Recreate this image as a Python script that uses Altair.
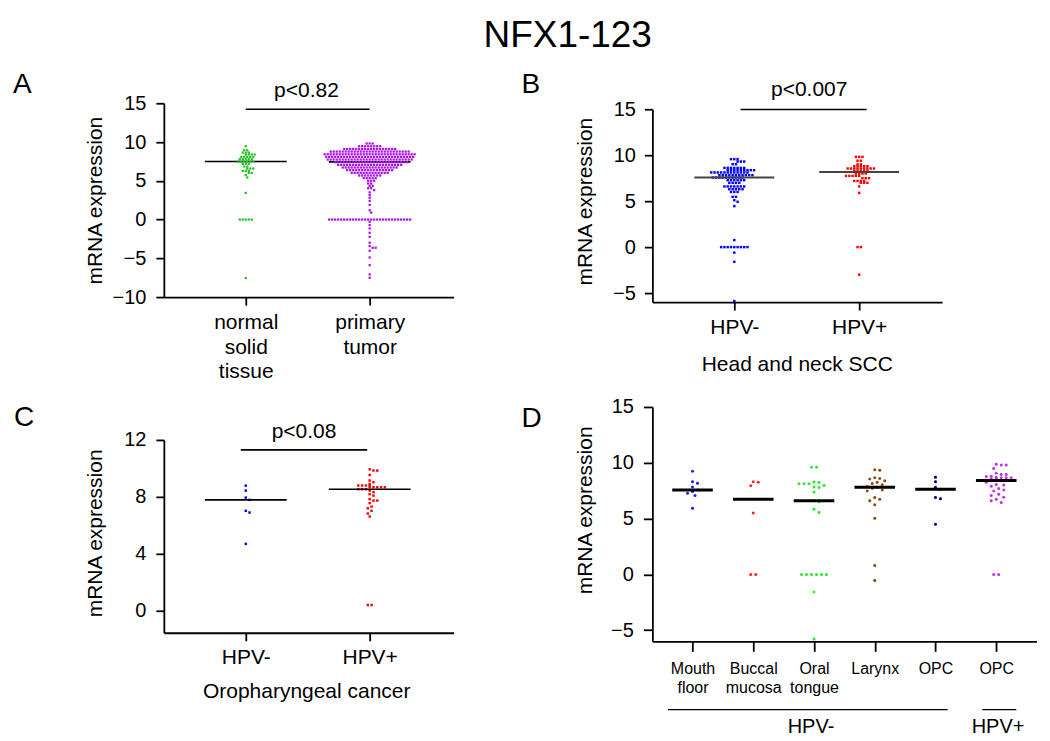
import math
import altair as alt
import pandas as pd

FONT = "Liberation Sans"

# ---------------- data ----------------
# Panel A : TCGA normal vs primary tumour
A_GROUPS = ["normal solid tissue", "primary tumor"]
A_CATS = [["normal", "solid", "tissue"], ["primary", "tumor"]]
A_NORMAL_LEVELS = [9.46, 8.94, 8.64, 8.39, 8.08, 7.78, 7.48, 7.18, 6.84, 6.58, 6.28, 6.02,
                   5.72, 5.42, 3.44, 0.0, -7.55]
A_NORMAL_COUNTS = [1, 2, 3, 4, 5, 5, 6, 3, 2, 3, 3, 2, 1, 1, 1, 5, 1]
A_TUMOR_LEVELS = [9.81, 9.46, 9.1, 8.77, 8.42, 8.08, 7.74, 7.4, 7.05, 6.71, 6.37, 6.02,
                  5.68, 5.34, 5.0, 4.65, 4.35, 4.05, 3.8, 3.5, 3.15, 2.8, 2.4, 1.9, 1.2,
                  0.9, 0.0, -0.29, -0.72, -1.15, -1.71, -2.22, -2.99, -3.42, -3.64,
                  -4.03, -4.89, -5.88, -7.08, -7.51]
A_TUMOR_COUNTS = [3, 8, 18, 27, 31, 30, 29, 25, 22, 19, 16, 13, 8, 5, 3, 2, 2, 2, 1, 1, 1,
                  1, 1, 1, 1, 1, 28, 1, 1, 1, 1, 1, 1, 1, 2, 1, 1, 1, 1, 1]
A_MEDIANS = [7.48, 7.44]
A_P = "p<0.82"

# Panel B : head and neck SCC by HPV status
B_GROUPS = ["HPV- HNSCC", "HPV+ HNSCC"]
B_CATS = [["HPV-"], ["HPV+"]]
B_NEG_LEVELS = [9.57, 9.31, 9.02, 8.62, 8.37, 8.12, 7.83, 7.57, 7.28, 6.99, 6.6, 6.3, 6.0,
                5.47, 5.1, 4.93, 4.46, 0.76, 0.0, -0.6, -1.6, -5.87]
B_NEG_COUNTS = [3, 3, 2, 7, 9, 12, 11, 10, 6, 4, 7, 5, 3, 2, 1, 1, 1, 1, 9, 1, 1, 1]
B_POS_LEVELS = [9.82, 9.4, 9.0, 8.8, 8.55, 8.3, 8.0, 7.75, 7.5, 7.2, 7.0, 6.6, 5.9, 0.0, -3.0]
B_POS_COUNTS = [3, 2, 2, 5, 9, 5, 4, 5, 3, 4, 3, 1, 1, 2, 1]
B_MEDIANS = [7.57, 8.18]
B_P = "p<0.007"
B_XTITLE = "Head and neck SCC"

# Panel C : oropharyngeal cancer
C_GROUPS = ["HPV- OPC", "HPV+ OPC"]
C_CATS = [["HPV-"], ["HPV+"]]
C_NEG = [8.79, 8.44, 7.95, 7.79, 7.02, 6.9, 4.7]
C_POS_LEVELS = [9.94, 9.85, 9.54, 9.15, 9.03, 8.91, 8.8, 8.68, 8.54, 8.44, 8.33, 8.19, 8.09,
                7.84, 7.74, 7.56, 7.32, 7.2, 7.02, 6.83, 6.62, 0.4]
C_POS_COUNTS = [1, 2, 1, 1, 1, 1, 4, 5, 3, 1, 1, 1, 1, 1, 2, 1, 1, 1, 1, 1, 1, 2]
C_MEDIANS = [7.79, 8.54]
C_P = "p<0.08"
C_XTITLE = "Oropharyngeal cancer"

# Panel D : by anatomical site
D_GROUPS = ["Mouth floor", "Buccal mucosa", "Oral tongue", "Larynx", "OPC (HPV-)", "OPC (HPV+)"]
D_CATS = [["Mouth", "floor"], ["Buccal", "mucosa"], ["Oral", "tongue"], ["Larynx"], ["OPC"], ["OPC"]]
D_MOUTH = [9.25, 8.29, 8.17, 7.84, 7.57, 7.42, 7.28, 7.07, 5.93]
D_BUCCAL = [8.3, 8.25, 7.95, 5.5, 0.0, 0.0]
D_TONGUE = [9.6, 9.6, 8.27, 8.24, 8.11, 8.11, 8.11, 7.96, 7.84, 7.78, 7.37, 6.59, 6.5, 5.84,
            5.54, 0.0, 0.0, 0.0, 0.0, 0.0, 0.0, -1.59, -5.8]
D_LARYNX = [9.38, 9.34, 8.65, 8.6, 8.55, 8.4, 8.26, 8.14, 8.02, 7.87, 7.81, 7.72, 7.57, 7.46,
            6.88, 6.74, 6.59, 6.23, 5.04, 0.8, -0.55]
D_OPC_NEG = [8.71, 8.29, 7.81, 7.63, 6.89, 6.77, 4.5]
D_OPC_POS = [9.87, 9.8, 9.8, 9.48, 9.07, 8.94, 8.94, 8.8, 8.77, 8.7, 8.65, 8.65, 8.65, 8.56,
             8.56, 8.4, 8.38, 8.26, 8.05, 8.0, 7.9, 7.7, 7.57, 7.46, 7.19, 7.07, 6.9, 6.74,
             6.59, 6.44, 0.0, 0.0]
D_MEDIANS = [7.57, 6.74, 6.59, 7.81, 7.63, 8.41]
D_GROUP_TEXT = ["HPV-", "HPV+"]
D_GROUP_SPAN = [[-0.403, 4.2], [4.77, 5.33]]
D_GROUP_CENTER = [1.95, 5.03]

TITLE = "NFX1-123"
YTITLE = "mRNA expression"


def expand(levels, counts):
    return [v for v, c in zip(levels, counts) for _ in range(c)]


def swarm(vals, ppu_x, ppu_y, s):
    """GraphPad-like scatter: identical values form centred rows, collisions pushed aside."""
    placed, res = [], []
    for v in sorted(set(vals), reverse=True):
        n = vals.count(v)
        y = v * ppu_y
        base = [(i - (n - 1) / 2) * s for i in range(n)]
        best = None
        for k in [0, 0.5, -0.5, 1, -1, 1.5, -1.5, 2, -2]:
            xs = [b + k * s for b in base]
            c = 0
            for (px, py) in placed:
                if abs(py - y) < s:
                    for x in xs:
                        if math.hypot(x - px, y - py) < 0.9 * s:
                            c += 1
            key = (c, abs(k))
            if best is None or key < best[0]:
                best = (key, xs)
        for x in best[1]:
            placed.append((x, y))
            res.append((v, x / ppu_x))
    return res


def label_expr(cats):
    parts = ["[" + ",".join("'%s'" % w for w in lines) + "]" for lines in cats]
    return "[" + ",".join(parts) + "][datum.value]"


def panel(p):
    rows = []
    for i, (g, vals) in enumerate(zip(p["groups"], p["values"])):
        for v, off in swarm(vals, p["ppu_x"], p["ppu_y"], p["spacing"]):
            rows.append({"x": i + off, "y": v, "g": g})
    pts = pd.DataFrame(rows)
    hw = p["median_half"]
    med = pd.DataFrame({"x": [i - hw for i in range(len(p["medians"]))],
                        "x2": [i + hw for i in range(len(p["medians"]))],
                        "y": p["medians"]})

    xaxis = dict(values=list(range(len(p["cats"]))), labelExpr=label_expr(p["cats"]),
                 grid=False, tickSize=p["xtick"], labelPadding=p["xlabpad"],
                 labelFontSize=p["xlabsize"], labelLineHeight=p["xlineh"],
                 labelOverlap=False, labelFlush=False, labelBaseline="top")
    if p.get("xtitle"):
        xaxis.update(title=p["xtitle"], titleX=p["xtitle_pos"][0], titleY=p["xtitle_pos"][1],
                     titleBaseline="alphabetic", titleAlign="center", titleFontSize=21,
                     titleFontWeight="normal")
    else:
        xaxis.update(title=None)
    X = alt.X("x:Q", scale=alt.Scale(domain=p["xdom"], nice=False, zero=False),
              axis=alt.Axis(**xaxis))
    yscale = dict(domain=p["ydom"], nice=False, zero=False)
    if p.get("yrange"):
        yscale["range"] = p["yrange"]
    Y = alt.Y("y:Q", scale=alt.Scale(**yscale),
              axis=alt.Axis(values=p["yticks"], grid=False, tickSize=p["ytick"],
                            labelPadding=p["ylabpad"], labelFontSize=20, title=YTITLE,
                            titleX=p["ytitle_pos"][0], titleY=p["ytitle_pos"][1],
                            titleAngle=270, titleBaseline="alphabetic", titleAlign="center",
                            titleFontSize=21, titleFontWeight="normal"))

    if p["shape"] == "circle":
        mk = alt.Chart(pts).mark_circle(size=p["size"], opacity=1)
    else:
        mk = alt.Chart(pts).mark_square(size=p["size"], opacity=1)
    points = mk.encode(x=X, y=Y,
                       color=alt.Color("g:N", scale=alt.Scale(domain=p["groups"], range=p["colors"]),
                                       legend=None))
    medians = alt.Chart(med).mark_rule(color=p["median_color"], strokeWidth=p["median_width"]).encode(
        x=X, x2="x2:Q", y=Y)
    layers = [medians, points] if p["median_under"] else [points, medians]

    if p.get("bracket"):
        bx0, bx1, by = p["bracket"]
        layers.append(alt.Chart(pd.DataFrame({"x": [bx0], "x2": [bx1], "y": [by]}))
                      .mark_rule(color="black", strokeWidth=1.6).encode(x=X, x2="x2:Q", y=Y))
        tx, ty = p["ptext_pos"]
        layers.append(alt.Chart(pd.DataFrame({"x": [tx], "y": [ty], "t": [p["ptext"]]}))
                      .mark_text(fontSize=21, font=FONT, align="center", baseline="alphabetic",
                                 color="black")
                      .encode(x=X, y=Y, text="t:N"))
    if p.get("group_text"):
        gdf = pd.DataFrame({"x": [s[0] for s in p["group_span"]],
                            "x2": [s[1] for s in p["group_span"]],
                            "y": [p["group_line_y"]] * len(p["group_span"])})
        layers.append(alt.Chart(gdf).mark_rule(color="black", strokeWidth=1.4)
                      .encode(x=X, x2="x2:Q", y=Y))
        tdf = pd.DataFrame({"x": p["group_center"], "y": [p["group_text_y"]] * len(p["group_center"]),
                            "t": p["group_text"]})
        layers.append(alt.Chart(tdf).mark_text(fontSize=20, font=FONT, align="center",
                                               baseline="alphabetic", color="black")
                      .encode(x=X, y=Y, text="t:N"))
    lx, ly = p["letter_pos"]
    layers.append(alt.Chart(pd.DataFrame({"t": [p["letter"]]}))
                  .mark_text(fontSize=28, font=FONT, align="left", baseline="alphabetic", color="black")
                  .encode(x=alt.value(lx), y=alt.value(ly), text="t:N"))
    return alt.layer(*layers).properties(width=p["width"], height=p["height"])


A = panel(dict(
    groups=A_GROUPS, cats=A_CATS,
    values=[expand(A_NORMAL_LEVELS, A_NORMAL_COUNTS), expand(A_TUMOR_LEVELS, A_TUMOR_COUNTS)],
    colors=["#22c322", "#a812e6"], medians=A_MEDIANS,
    width=290, height=194, xdom=[-0.661, 1.677], ydom=[-10, 15], yticks=[-10, -5, 0, 5, 10, 15],
    ppu_x=124, ppu_y=7.76, spacing=3.0, size=5, shape="square",
    median_half=0.33, median_color="black", median_width=1.6, median_under=True,
    xtick=8, xlabpad=6, xlabsize=21, xlineh=25, ytick=8, ylabpad=10,
    ytitle_pos=[-62, 97],
    bracket=[0.0, 1.0, 14.23], ptext=A_P, ptext_pos=[0.49, 15.81],
    letter="A", letter_pos=[-151, -10]))

B = panel(dict(
    groups=B_GROUPS, cats=B_CATS,
    values=[expand(B_NEG_LEVELS, B_NEG_COUNTS), expand(B_POS_LEVELS, B_POS_COUNTS)],
    colors=["#0000ff", "#ff0000"], medians=B_MEDIANS,
    width=290, height=199, xdom=[-0.656, 1.664], ydom=[-5.98, 15], yrange=[199, 6],
    yticks=[-5, 0, 5, 10, 15],
    ppu_x=125, ppu_y=9.2, spacing=3.3, size=6, shape="square",
    median_half=0.32, median_color="#444444", median_width=2, median_under=False,
    xtick=8, xlabpad=6, xlabsize=21, xlineh=25, ytick=8, ylabpad=9,
    xtitle=B_XTITLE, xtitle_pos=[144.5, 68],
    ytitle_pos=[-61, 98],
    bracket=[0.05, 1.06, 14.97], ptext=B_P, ptext_pos=[0.6, 16.45],
    letter="B", letter_pos=[-131, -10]))

C = panel(dict(
    groups=C_GROUPS, cats=C_CATS,
    values=[C_NEG, expand(C_POS_LEVELS, C_POS_COUNTS)],
    colors=["#0000ff", "#ff0000"], medians=C_MEDIANS,
    width=290, height=226, xdom=[-0.661, 1.677], ydom=[-1.544, 12], yrange=[226, 33],
    yticks=[0, 4, 8, 12],
    ppu_x=124, ppu_y=14.25, spacing=3.8, size=6, shape="square",
    median_half=0.33, median_color="black", median_width=1.6, median_under=False,
    xtick=8, xlabpad=6, xlabsize=21, xlineh=25, ytick=8, ylabpad=10,
    xtitle=C_XTITLE, xtitle_pos=[142.5, 65],
    ytitle_pos=[-62, 126],
    bracket=[-0.04, 0.98, 11.3], ptext=C_P, ptext_pos=[0.47, 12.14],
    letter="C", letter_pos=[-150, 19]))

D = panel(dict(
    groups=D_GROUPS, cats=D_CATS,
    values=[D_MOUTH, D_BUCCAL, D_TONGUE, D_LARYNX, D_OPC_NEG, D_OPC_POS],
    colors=["#1a1aff", "#ff1f1f", "#22ee22", "#8c4a0c", "#000080", "#c030f0"],
    medians=D_MEDIANS,
    width=384.5, height=234.6, xdom=[-0.661, 5.663], ydom=[-6.0, 15],
    yticks=[-5, 0, 5, 10, 15],
    ppu_x=60.8, ppu_y=11.17, spacing=5, size=9, shape="circle",
    median_half=0.334, median_color="black", median_width=3, median_under=False,
    xtick=10, xlabpad=9, xlabsize=16, xlineh=19, ytick=9, ylabpad=10,
    ytitle_pos=[-61, 103],
    group_text=D_GROUP_TEXT, group_span=D_GROUP_SPAN, group_center=D_GROUP_CENTER,
    group_line_y=-12.12, group_text_y=-14.2,
    letter="D", letter_pos=[-131, 20]))

chart = alt.concat(A, B, C, D, columns=2, align="each",
                   spacing={"row": 15, "column": 68}).resolve_scale(
    color="independent"
).properties(
    title=alt.TitleParams(TITLE, fontSize=37, font=FONT, fontWeight="normal",
                          anchor="middle", dx=43, offset=16, color="black"),
    padding={"left": 5, "top": 9, "right": 5, "bottom": 0},
).configure_view(stroke=None).configure_axis(
    labelFont=FONT, titleFont=FONT, labelColor="black", titleColor="black",
    domainColor="black", tickColor="black", domainWidth=1.8, tickWidth=1.8,
).configure_text(font=FONT)

chart.save("out.html", embed_options={"renderer": "svg", "actions": False})
